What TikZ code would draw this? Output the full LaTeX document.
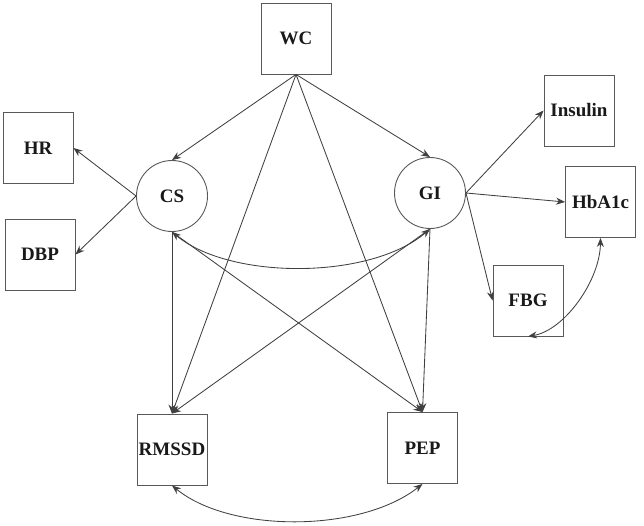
\documentclass[tikz,border=0pt]{standalone}
\usepackage{fontspec}
\setmainfont{Liberation Serif}
\usetikzlibrary{arrows.meta}
\begin{document}
\begin{tikzpicture}[x=1pt,y=-1pt,
  every node/.style={font=\fontsize{19}{21}\selectfont\bfseries, text=black!90},
  obs/.style={draw=black!65, line width=0.9pt, minimum width=70pt, minimum height=71pt, inner sep=0pt},
  lat/.style={draw=black!65, line width=0.9pt, circle, minimum size=71pt, inner sep=0pt},
  path/.style={draw=black!75, line width=0.85pt, -{Stealth[length=9pt,width=7pt]}},
  cov/.style={draw=black!75, line width=0.85pt, {Stealth[length=9pt,width=7pt]}-{Stealth[length=9pt,width=7pt]}}]
\useasboundingbox (0,0) rectangle (644,525);
\node[obs] (wc) at (296,38.5) {WC};
\node[obs] (hr) at (38,148) {HR};
\node[obs] (dbp) at (40,254.5) {DBP};
\node[lat] (cs) at (172,196) {CS};
\node[lat] (gi) at (430,193) {GI};
\node[obs] (ins) at (579,110.5) {Insulin};
\node[obs] (hba) at (600.5,202) {HbA1c};
\node[obs] (fbg) at (528,300.5) {FBG};
\node[obs] (rmssd) at (172,449.5) {RMSSD};
\node[obs] (pep) at (422.5,448) {PEP};
\coordinate (wcs) at (wc.south);
\draw[path] (wcs) -- (cs.north);
\draw[path] (wcs) -- (gi.north);
\draw[path] (wcs) -- (rmssd.north);
\draw[path] (wcs) -- (pep.north);
\draw[path] (cs.west) -- (hr.east);
\draw[path] (cs.west) -- (dbp.east);
\draw[path] (cs.south) -- (rmssd.north);
\draw[path] (cs.south) -- (pep.north);
\draw[path] (gi.south) -- (rmssd.north);
\draw[path] (gi.south) -- (pep.north);
\draw[path] (gi.east) -- (ins.west);
\draw[path] (gi.east) -- (hba.west);
\draw[path] (gi.east) -- (fbg.west);
\draw[cov] (cs.south) .. controls (230,280) and (370,280) .. (gi.south);
\draw[cov] (rmssd.south) .. controls (230,533) and (360,533) .. (pep.south);
\draw[cov] (fbg.south) .. controls (565,330) and (600,280) .. (hba.south);
\end{tikzpicture}
\end{document}
